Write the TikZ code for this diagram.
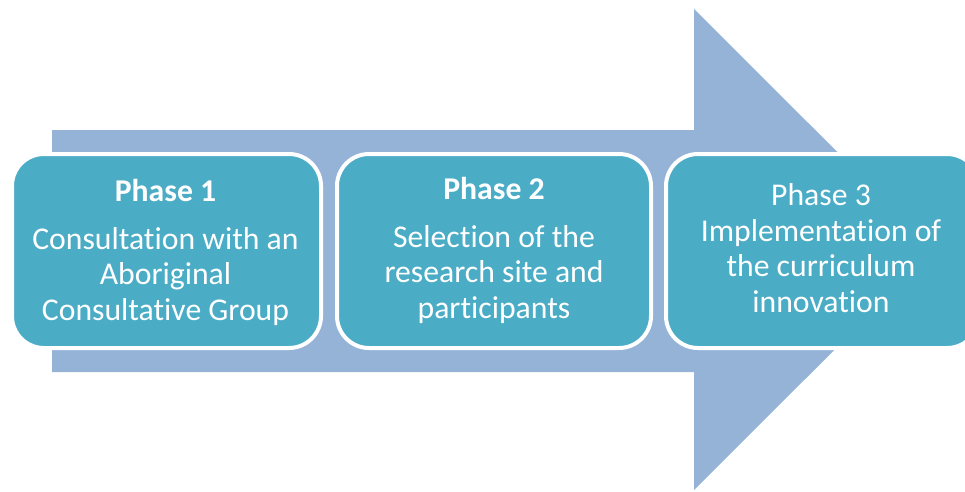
\documentclass[tikz,border=0pt]{standalone}
\usepackage{fontspec}
\setmainfont{Carlito}[Ligatures=NoCommon]
\definecolor{arrowblue}{HTML}{95B3D7}
\definecolor{phaseteal}{HTML}{4BACC6}
\begin{document}
\begin{tikzpicture}[x=1pt,y=1pt,
  phasebox/.style={fill=phaseteal,draw=white,line width=4pt,rounded corners=32pt},
  phasetext/.style={text=white,align=center,anchor=base,inner sep=0pt,
    font=\fontsize{31.7}{35.5}\selectfont}]
\useasboundingbox (0,0) rectangle (965,491);
% big block arrow behind the phases
\fill[arrowblue] (52,361) -- (694,361) -- (694,482) -- (935,241.5)
  -- (694,1) -- (694,119) -- (52,119) -- cycle;
% phase boxes
\path[phasebox] (12,143) rectangle (321,337);
\path[phasebox] (337,143) rectangle (651,337);
\path[phasebox] (666,143) rectangle (979,337);
% base anchor sits on the last line
\node[phasetext] (p1) at (165.5,171) {\textbf{Phase 1}\\[12pt]Consultation with an\\Aboriginal\\Consultative Group};
\node[phasetext] (p2) at (494,173) {\textbf{Phase 2}\\[12pt]Selection of the\\research site and\\participants};
\node[phasetext] (p3) at (821,179) {Phase 3\\Implementation of\\the curriculum\\innovation};
\end{tikzpicture}
\end{document}
